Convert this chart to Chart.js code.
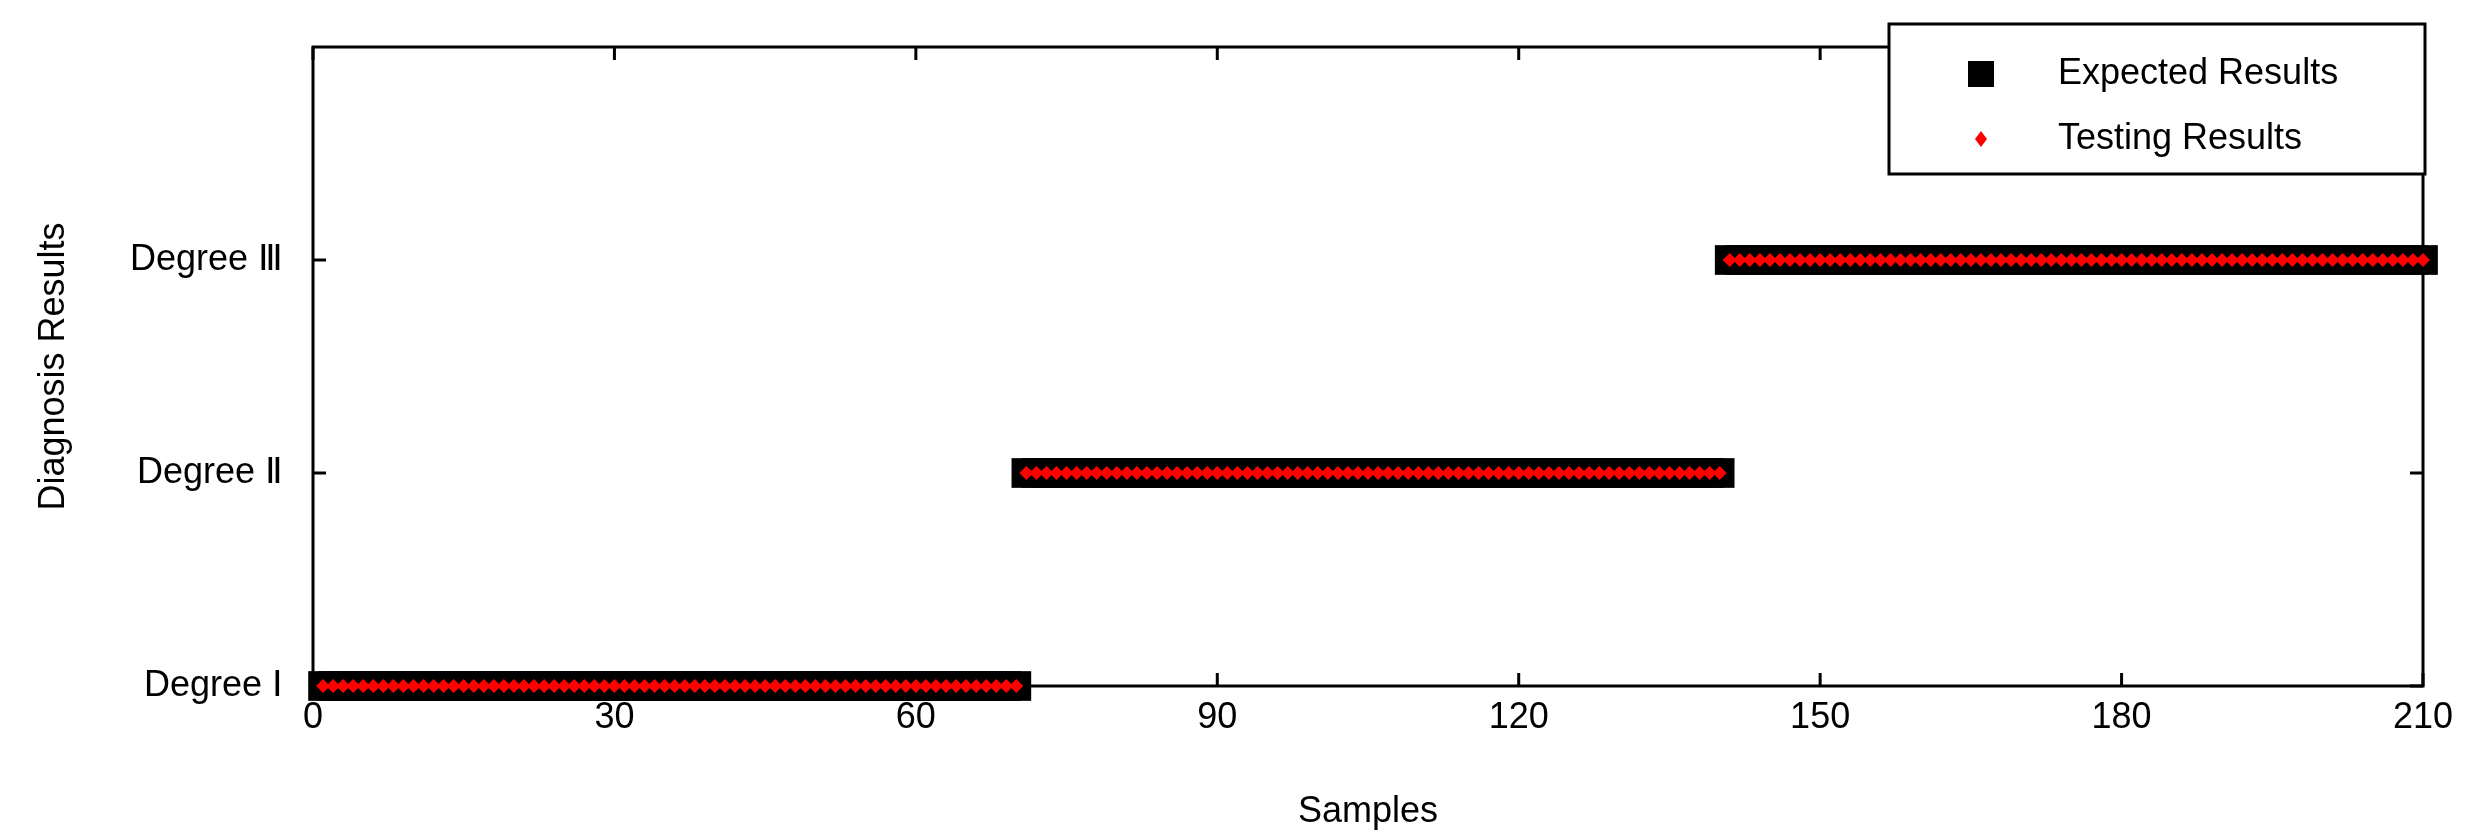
<!DOCTYPE html>
<html><head><meta charset="utf-8">
<script src="https://cdn.jsdelivr.net/npm/chart.js@4"></script>
<style>html,body{margin:0;background:#fff}#w{width:2485px;height:838px}</style>
</head><body><div id="w"><canvas id="c"></canvas></div>
<script>
const xTicks=[0,30,60,90,120,150,180,210];
const yLabels={1:'Degree Ⅰ',2:'Degree Ⅱ',3:'Degree Ⅲ'};
const seriesNames=['Expected Results','Testing Results'];
// diagnosis class per sample (1..210)
const expected=[
1,1,1,1,1,1,1,1,1,1,1,1,1,1,1,1,1,1,1,1,1,1,1,1,1,1,1,1,1,1,1,1,1,1,1,1,1,1,1,1,1,1,1,1,1,1,1,1,1,1,1,1,1,1,1,1,1,1,1,1,1,1,1,1,1,1,1,1,1,1,
2,2,2,2,2,2,2,2,2,2,2,2,2,2,2,2,2,2,2,2,2,2,2,2,2,2,2,2,2,2,2,2,2,2,2,2,2,2,2,2,2,2,2,2,2,2,2,2,2,2,2,2,2,2,2,2,2,2,2,2,2,2,2,2,2,2,2,2,2,2,
3,3,3,3,3,3,3,3,3,3,3,3,3,3,3,3,3,3,3,3,3,3,3,3,3,3,3,3,3,3,3,3,3,3,3,3,3,3,3,3,3,3,3,3,3,3,3,3,3,3,3,3,3,3,3,3,3,3,3,3,3,3,3,3,3,3,3,3,3,3];
const testing=expected.slice();
const samples=expected.map((v,i)=>i+1);
const F='"Liberation Sans", Arial, sans-serif';
const TL=13;
const frame={id:'frame',beforeDatasetsDraw(ch){
 const c=ch.ctx,a=ch.chartArea,x=ch.scales.x,y=ch.scales.y;
 c.save();c.strokeStyle='#000';c.lineWidth=3;
 c.strokeRect(a.left,a.top,a.right-a.left,a.bottom-a.top);
 xTicks.forEach(t=>{const p=x.getPixelForValue(t);c.beginPath();c.moveTo(p,a.bottom);c.lineTo(p,a.bottom-TL);c.moveTo(p,a.top);c.lineTo(p,a.top+TL);c.stroke();});
 [1,2,3].forEach(t=>{const p=y.getPixelForValue(t);c.beginPath();c.moveTo(a.left,p);c.lineTo(a.left+TL,p);c.moveTo(a.right,p);c.lineTo(a.right-TL,p);c.stroke();});
 c.restore();
},afterDraw(ch){
 const c=ch.ctx;c.save();
 const lx=1889,ly=24,lw=536,lh=150;
 c.fillStyle='#fff';c.fillRect(lx,ly,lw,lh);c.strokeStyle='#000';c.lineWidth=3;c.strokeRect(lx,ly,lw,lh);
 c.fillStyle='#000';c.fillRect(1981-13,74-13,26,26);
 c.fillStyle='#ff0000';c.beginPath();c.moveTo(1981,139-8);c.lineTo(1981+6,139);c.lineTo(1981,139+8);c.lineTo(1981-6,139);c.closePath();c.fill();
 c.fillStyle='#000';c.font='36px '+F;c.textBaseline='middle';c.textAlign='left';
 c.fillText(seriesNames[0],2058,74);c.fillText(seriesNames[1],2058,139);
 c.restore();
}};
new Chart(document.getElementById('c'),{
 type:'scatter',
 data:{datasets:[
  {label:seriesNames[0],order:2,data:samples.map((s,i)=>({x:s,y:expected[i]})),pointStyle:'rect',radius:21,hoverRadius:21,backgroundColor:'#000',borderWidth:0,clip:false},
  {label:seriesNames[1],order:1,data:samples.map((s,i)=>({x:s,y:testing[i]})),pointStyle:'rectRot',radius:7,hoverRadius:7,backgroundColor:'#ff0000',borderWidth:0,clip:false}
 ]},
 options:{responsive:true,maintainAspectRatio:false,animation:false,events:[],
  layout:{padding:{top:47,right:62,left:28,bottom:0}},
  plugins:{legend:{display:false},tooltip:{enabled:false}},
  scales:{
   x:{type:'linear',min:0,max:210,afterBuildTicks(s){s.ticks=xTicks.map(v=>({value:v}));},
    afterFit(s){s.height=152;},
    grid:{display:false},border:{display:false},
    ticks:{color:'#000',font:{size:36,family:F},padding:2,maxRotation:0},
    title:{display:true,text:'Samples',color:'#000',font:{size:36,family:F},padding:{top:4}}},
   y:{type:'linear',min:1,max:4,afterBuildTicks(s){s.ticks=[1,2,3].map(v=>({value:v}));},
    afterFit(s){s.width=285;},
    grid:{display:false},border:{display:false},
    ticks:{color:'#000',font:{size:36,family:F},padding:22,callback:v=>yLabels[v]||''},
    title:{display:true,text:'Diagnosis Results',color:'#000',font:{size:36,family:F},padding:{bottom:10}}}
  }},
 plugins:[frame]
});
</script></body></html>
